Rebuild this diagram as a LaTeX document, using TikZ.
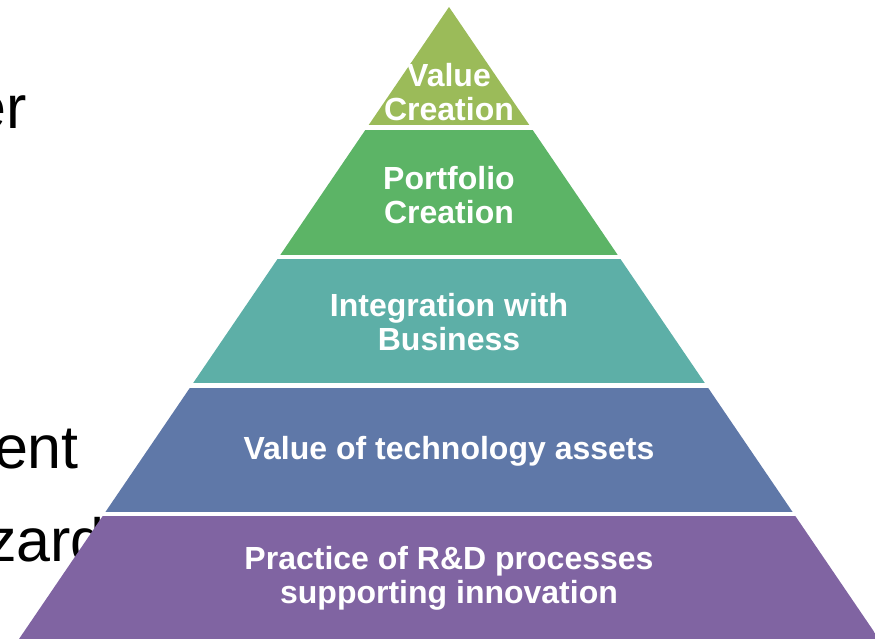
\documentclass[tikz,border=0pt]{standalone}
\usepackage{fontspec}
\setmainfont{Liberation Sans}
\usepackage{xcolor}
\usetikzlibrary{positioning}
\definecolor{tierA}{HTML}{9BBB59}
\definecolor{tierB}{HTML}{5CB466}
\definecolor{tierC}{HTML}{5DAFA7}
\definecolor{tierD}{HTML}{5F78A8}
\definecolor{tierE}{HTML}{8064A2}
\tikzset{
  tierlabel/.style={text=white, align=center, inner sep=0pt,
                    font=\fontsize{32}{34}\selectfont\bfseries},
  slidetext/.style={text=black, inner sep=0pt, anchor=base east,
                    font=\fontsize{61}{70}\selectfont}
}

\begin{document}
\begin{tikzpicture}[x=1pt, y=-1pt]
  \useasboundingbox (0,0) rectangle (875,639);
  \clip (0,0) rectangle (875,639);

  % slide text running behind the pyramid
  \node[slidetext] (wordA) at (27,129) {er};
  \node[slidetext] (wordB) at (79,468) {ent};
  \node[slidetext, anchor=base west] (wordC) at (-14,561) {zard};

  % the pyramid, cut into five tiers
  \begin{scope}
    \clip (449,7) -- (19,639) -- (879,639) -- cycle;
    \foreach \top/\bot/\col in {7/125/tierA, 130/255/tierB, 259/383/tierC,
                                388/512/tierD, 516/645/tierE}
      \fill[\col] (0,\top) rectangle (875,\bot);
  \end{scope}

  \node[tierlabel] (tierA) at (449,92)  {Value\\Creation};
  \node[tierlabel] (tierB) at (449,195) {Portfolio\\Creation};
  \node[tierlabel] (tierC) at (449,322) {Integration with\\Business};
  \node[tierlabel] (tierD) at (449,451) {Value of technology assets};
  \node[tierlabel] (tierE) at (449,578) {Practice of R\&D processes\\supporting innovation};
\end{tikzpicture}
\end{document}
